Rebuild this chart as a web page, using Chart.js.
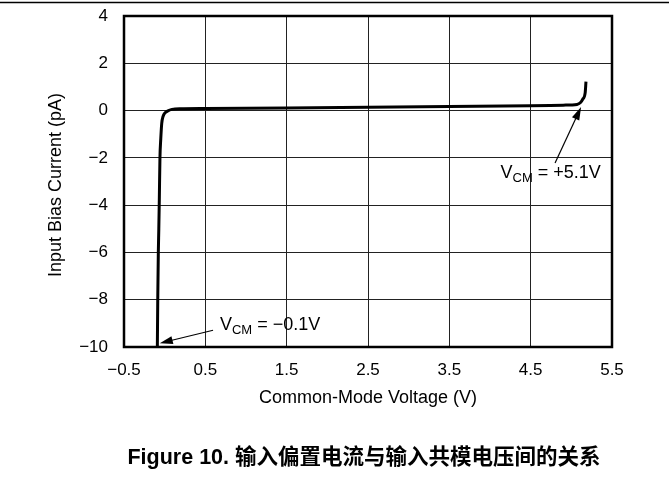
<!DOCTYPE html>
<html>
<head>
<meta charset="utf-8">
<script src="https://cdn.jsdelivr.net/npm/chart.js@4.4.0/dist/chart.umd.min.js"></script>
<style>
    html, body { margin: 0; padding: 0; background: #fff; }
    #wrap { width: 669px; height: 487px; position: relative; }
</style>
</head>
<body>
<div id="wrap"><canvas id="biasChart" width="669" height="487"></canvas></div>
<script>
// Input bias current vs common-mode voltage
const vcmVolts = [-0.09, -0.085, -0.078, -0.072, -0.066, -0.058, -0.048, -0.036, -0.02, 0.004, 0.04, 0.09, 0.19, 0.5, 1.5, 2.5, 3.5, 4.5, 4.9, 5.07, 5.11, 5.14, 5.17, 5.18];
const biasPa   = [-10, -8, -6, -5, -3.8, -2, -1.2, -0.54, -0.25, -0.1, -0.01, 0.05, 0.08, 0.09, 0.11, 0.14, 0.17, 0.2, 0.23, 0.26, 0.33, 0.48, 0.75, 1.22];

const xTicks = [-0.5, 0.5, 1.5, 2.5, 3.5, 4.5, 5.5];
const yTicks = [-10, -8, -6, -4, -2, 0, 2, 4];

const xTitle = 'Common-Mode Voltage (V)';
const yTitle = 'Input Bias Current (pA)';
const caption = 'Figure 10. 输入偏置电流与输入共模电压间的关系';

// annotation callouts: text start + arrow tail/head, in data units
const callouts = [
    { label: ' = \u22120.1V', text: [0.68, -9.3], tail: [0.595, -9.29], head: [-0.06, -9.84] },
    { label: ' = +5.1V',      text: [4.13, -2.85], tail: [4.80, -2.22], head: [5.12, 0.15] }
];

const FONT = '"Liberation Sans", Arial, sans-serif';
const minus = v => String(v).replace('-', '\u2212');

const points = vcmVolts.map((x, i) => ({ x: x, y: biasPa[i] }));

function arrow(ctx, x0, y0, x1, y1) {
    const ang = Math.atan2(y1 - y0, x1 - x0);
    const len = 13, half = 4;
    ctx.beginPath();
    ctx.moveTo(x0, y0);
    ctx.lineTo(x1 - Math.cos(ang) * len * 0.8, y1 - Math.sin(ang) * len * 0.8);
    ctx.stroke();
    ctx.beginPath();
    ctx.moveTo(x1, y1);
    ctx.lineTo(x1 - Math.cos(ang) * len - Math.sin(ang) * half, y1 - Math.sin(ang) * len + Math.cos(ang) * half);
    ctx.lineTo(x1 - Math.cos(ang) * len + Math.sin(ang) * half, y1 - Math.sin(ang) * len - Math.cos(ang) * half);
    ctx.closePath();
    ctx.fill();
}

const decorations = {
    id: 'decorations',
    afterDraw(chart) {
        const ctx = chart.ctx;
        const area = chart.chartArea;
        const xs = chart.scales.x, ys = chart.scales.y;
        ctx.save();

        // page rule at the top
        ctx.strokeStyle = '#000';
        ctx.lineWidth = 1.5;
        ctx.beginPath();
        ctx.moveTo(0, 2.5);
        ctx.lineTo(669, 2.5);
        ctx.stroke();

        // frame
        ctx.lineWidth = 2.5;
        ctx.strokeRect(area.left, area.top, area.right - area.left, area.bottom - area.top);

        // callouts
        ctx.fillStyle = '#000';
        ctx.lineWidth = 1.2;
        callouts.forEach(c => {
            arrow(ctx, xs.getPixelForValue(c.tail[0]), ys.getPixelForValue(c.tail[1]),
                       xs.getPixelForValue(c.head[0]), ys.getPixelForValue(c.head[1]));
            let tx = xs.getPixelForValue(c.text[0]);
            const ty = ys.getPixelForValue(c.text[1]);
            ctx.textBaseline = 'alphabetic';
            ctx.textAlign = 'left';
            ctx.font = '18px ' + FONT;
            ctx.fillText('V', tx, ty);
            tx += ctx.measureText('V').width;
            ctx.font = '13px ' + FONT;
            ctx.fillText('CM', tx, ty + 4);
            tx += ctx.measureText('CM').width;
            ctx.font = '18px ' + FONT;
            ctx.fillText(c.label, tx, ty);
        });

        // axis titles
        ctx.font = '18px ' + FONT;
        ctx.textAlign = 'center';
        ctx.textBaseline = 'middle';
        ctx.fillText(xTitle, (area.left + area.right) / 2, 398);
        ctx.save();
        ctx.translate(56, 185);
        ctx.rotate(-Math.PI / 2);
        ctx.fillText(yTitle, 0, 0);
        ctx.restore();

        // figure caption
        ctx.font = 'bold 21.5px ' + FONT + ', "Noto Sans CJK SC"';
        ctx.fillText(caption, 364, 458);
        ctx.restore();
    }
};

new Chart(document.getElementById('biasChart'), {
    type: 'scatter',
    data: {
        datasets: [{
            data: points,
            showLine: true,
            borderColor: '#000',
            borderWidth: 3,
            pointRadius: 0,
            cubicInterpolationMode: 'monotone',
            fill: false
        }]
    },
    options: {
        responsive: false,
        animation: false,
        devicePixelRatio: 1,
        layout: { padding: { left: 0, top: 16, right: 57, bottom: 100 } },
        plugins: { legend: { display: false }, tooltip: { enabled: false } },
        scales: {
            x: {
                type: 'linear',
                min: -0.5,
                max: 5.5,
                afterFit(scale) { scale.height = 40; scale.paddingLeft = 0; scale.paddingRight = 0; },
                afterBuildTicks(scale) { scale.ticks = xTicks.map(v => ({ value: v })); },
                ticks: {
                    padding: 13,
                    color: '#000',
                    font: { family: FONT, size: 17 },
                    callback: v => minus(v)
                },
                grid: { color: '#222', lineWidth: 1, drawTicks: false },
                border: { display: false }
            },
            y: {
                type: 'linear',
                min: -10,
                max: 4,
                afterFit(scale) { scale.width = 124; scale.paddingTop = 0; scale.paddingBottom = 0; },
                afterBuildTicks(scale) { scale.ticks = yTicks.map(v => ({ value: v })); },
                ticks: {
                    padding: 16,
                    color: '#000',
                    font: { family: FONT, size: 17 },
                    callback: v => minus(v)
                },
                grid: { color: '#222', lineWidth: 1, drawTicks: false },
                border: { display: false }
            }
        }
    },
    plugins: [decorations]
});
</script>
</body>
</html>
